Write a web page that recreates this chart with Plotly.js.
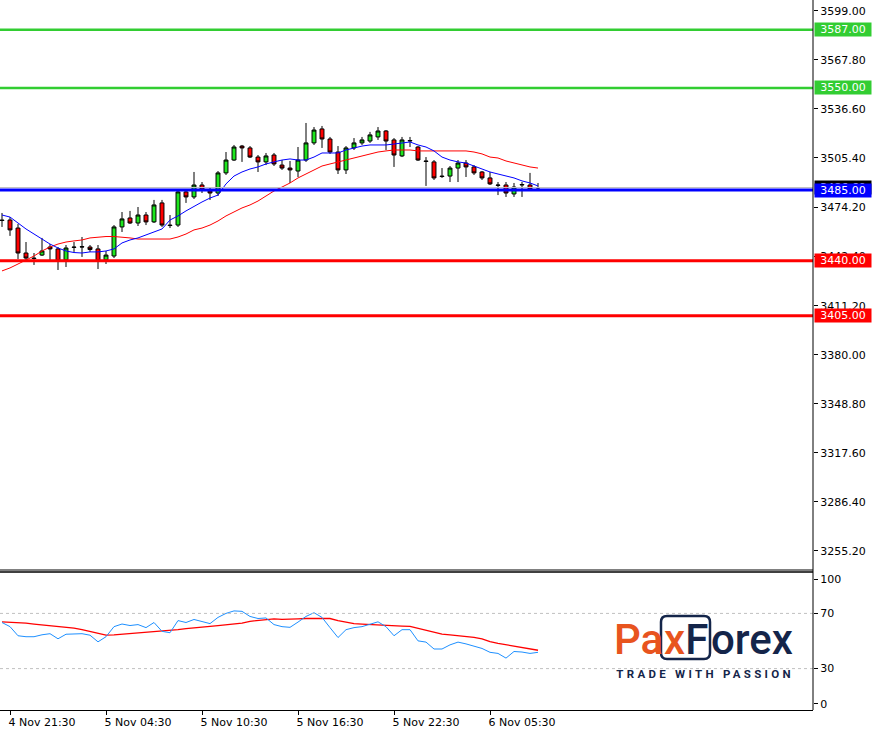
<!DOCTYPE html>
<html>
<head>
<meta charset="utf-8">
<script src="https://cdn.plot.ly/plotly-3.0.1.min.js"></script>
<style>
html,body{margin:0;padding:0;background:#fff;}
#chart{width:876px;height:730px;}
</style>
</head>
<body>
<div id="chart"></div>
<script>
// ---- data ----
const barIndex = Array.from({length: 68}, (_, i) => i);

const openPx = [3465.9,3465.9,3460.8,3444.9,3441.7,3443.6,3448.7,3447.5,3440.5,3448.7,
  3448.7,3448.7,3447.5,3440.5,3443.0,3461.5,3467.2,3464.0,3469.1,3464.7,
  3476.8,3462.7,3462.7,3483.8,3480.6,3488.2,3484.4,3483.1,3495.9,3504.1,
  3513.0,3511.8,3506.0,3502.9,3507.3,3500.9,3499.0,3497.1,3504.1,3515.0,
  3523.9,3517.5,3509.2,3497.8,3511.8,3515.0,3516.2,3518.8,3522.6,3516.9,
  3506.7,3516.2,3512.4,3503.5,3502.9,3493.9,3493.9,3499.0,3502.2,3499.7,
  3496.5,3492.7,3488.2,3488.2,3482.5,3488.2,3488.2,3486.3];

const highPx = [3470.4,3467.8,3463.4,3451.9,3444.9,3454.5,3450.6,3448.7,3450.0,3451.9,
  3455.1,3450.0,3450.0,3446.2,3462.7,3471.0,3471.7,3474.2,3471.0,3478.7,
  3478.7,3469.1,3485.0,3485.0,3496.5,3490.1,3486.3,3497.1,3509.2,3513.7,
  3513.7,3513.0,3507.3,3508.6,3508.6,3504.1,3503.5,3512.4,3527.7,3525.1,
  3525.8,3518.8,3513.0,3513.0,3518.1,3518.8,3522.0,3525.1,3523.2,3518.1,
  3518.8,3518.8,3513.0,3506.0,3504.1,3499.0,3500.3,3504.1,3504.1,3500.9,
  3497.1,3496.5,3490.1,3490.1,3489.5,3490.1,3495.9,3489.5];

const lowPx = [3461.5,3455.8,3441.1,3439.2,3437.3,3443.0,3439.2,3434.1,3436.0,3445.6,
  3442.4,3445.6,3434.7,3437.9,3441.7,3458.3,3463.4,3462.1,3462.7,3464.0,
  3461.5,3460.8,3461.5,3476.8,3479.3,3483.1,3478.7,3481.2,3494.6,3503.5,
  3502.9,3505.4,3496.5,3500.9,3500.3,3497.8,3489.5,3493.3,3502.9,3513.7,
  3511.8,3508.0,3495.2,3495.2,3510.5,3513.7,3515.0,3516.9,3510.5,3499.7,
  3506.0,3512.4,3503.5,3487.6,3491.4,3492.7,3490.1,3490.1,3493.3,3494.6,
  3491.4,3488.2,3481.8,3480.6,3480.6,3480.6,3485.0,3485.0];

const closePx = [3465.6,3459.6,3444.9,3441.7,3441.4,3446.2,3447.5,3439.8,3448.1,3448.5,
  3448.9,3447.1,3439.8,3443.6,3461.5,3466.6,3464.0,3469.1,3464.7,3475.5,
  3462.7,3462.4,3483.8,3480.6,3488.2,3485.0,3483.1,3495.9,3504.1,3512.4,
  3511.8,3506.0,3502.9,3506.7,3501.6,3499.0,3497.8,3504.1,3515.0,3523.2,
  3517.5,3509.2,3497.8,3511.8,3515.0,3516.9,3520.1,3522.6,3516.2,3507.3,
  3516.9,3516.5,3504.1,3503.2,3492.7,3493.6,3499.0,3502.2,3499.7,3495.9,
  3492.7,3488.9,3488.0,3483.1,3486.9,3488.5,3485.7,3486.6];

const maFast = [3469.1,3467.8,3464.0,3460.2,3457.0,3453.8,3450.6,3448.1,3446.2,3445.2,
  3444.9,3445.6,3445.6,3446.2,3447.5,3451.3,3453.2,3454.5,3456.4,3458.3,
  3460.2,3465.9,3468.5,3471.7,3474.8,3477.4,3479.9,3481.8,3488.9,3493.9,
  3496.5,3498.4,3499.7,3501.6,3502.9,3504.1,3504.8,3504.1,3504.1,3506.0,
  3508.6,3508.6,3508.6,3510.5,3511.8,3513.0,3513.7,3513.7,3513.7,3514.3,
  3515.0,3515.6,3513.7,3512.4,3509.9,3506.0,3504.1,3502.9,3502.2,3500.3,
  3498.4,3496.5,3495.2,3493.9,3492.7,3490.8,3489.5,3487.6];

const maSlow = [3433.5,3435.4,3437.9,3440.5,3443.0,3446.2,3448.7,3450.6,3451.9,3452.6,
  3453.2,3454.5,3455.1,3455.4,3455.4,3455.1,3454.5,3453.8,3453.8,3453.8,
  3453.8,3453.8,3455.1,3457.0,3459.6,3460.8,3462.7,3465.3,3468.5,3471.0,
  3473.6,3475.5,3478.0,3481.2,3484.4,3486.9,3489.5,3492.7,3495.2,3497.8,
  3500.3,3501.6,3502.9,3504.1,3505.4,3506.7,3508.0,3509.2,3509.9,3510.5,
  3510.5,3510.5,3509.9,3509.9,3509.9,3509.9,3509.9,3509.9,3509.9,3509.2,
  3508.0,3506.0,3505.4,3503.5,3502.2,3500.9,3499.7,3499.0];

const rsi = [63.4,60.4,53.8,53.1,53.1,54.5,55.3,51.6,54.9,55.3,
  55.3,54.2,49.4,53.1,60.4,62.3,61.2,61.9,59.7,63.4,
  57.0,56.0,64.8,63.4,65.6,64.1,62.6,67.1,70.0,71.8,
  71.5,67.8,66.3,66.7,61.9,60.4,59.9,63.7,67.8,70.5,
  67.1,59.7,52.5,58.2,59.7,60.4,61.9,63.9,60.4,53.8,
  58.2,58.2,50.1,49.2,44.2,44.2,47.2,49.2,47.9,46.4,
  44.6,41.8,41.0,37.6,42.4,42.0,41.0,41.8];

const rsiSignal = [63.9,63.7,63.6,63.0,62.3,61.7,61.2,60.4,60.0,59.3,
  58.2,57.0,55.3,54.2,54.5,54.9,55.3,55.8,56.4,56.8,
  57.1,57.5,58.2,59.0,59.7,60.1,60.6,61.2,61.9,62.4,
  63.0,64.3,64.8,65.6,66.0,65.6,65.6,66.1,66.3,66.3,
  66.3,66.3,64.8,63.7,62.6,62.3,61.9,61.9,61.5,61.2,
  60.8,60.6,59.3,57.8,56.4,55.0,54.5,54.0,53.6,52.7,
  51.6,49.6,48.3,47.2,46.2,45.2,44.2,43.3];

const timeTickIdx = [1, 13, 25, 37, 49, 61];
const timeTickLabels = ['4 Nov 21:30','5 Nov 04:30','5 Nov 10:30','5 Nov 16:30','5 Nov 22:30','6 Nov 05:30'];

const priceTickVals = [3599.0, 3567.8, 3536.6, 3505.4, 3474.2, 3443.0, 3411.2, 3380.0, 3348.8, 3317.6, 3286.4, 3255.2];
const priceTickText = ['3599.00','3567.80','3536.60','3505.40','3474.20','3442.40','3411.20','3380.00','3348.80','3317.60','3286.40','3255.20'];

const rsiTickVals = [94.5, 70, 30, 4.5];
const rsiTickText = ['100', '70', '30', '0'];

const levelValues = [3587, 3550, 3485, 3440, 3405];
const levelColors = ['#32CD32', '#32CD32', '#0000FF', '#FF0000', '#FF0000'];
const levelWidths = [2.5, 2.5, 3, 3, 3];

const rsiLevels = [70, 30];

// ---- layout helpers ----
const W = 876, H = 730;
const M = {l: 0, r: 63, t: 0, b: 20};
const PW = W - M.l - M.r, PH = H - M.t - M.b;
const px = x => (x - M.l) / PW;
const py = y => 1 - (y - M.t) / PH;
const FONT = 'DejaVu Sans, Tahoma, sans-serif';

const traces = [
  {
    type: 'candlestick', x: barIndex, open: openPx, high: highPx, low: lowPx, close: closePx,
    xaxis: 'x', yaxis: 'y',
    increasing: {line: {color: '#000000', width: 1}, fillcolor: '#1ee61e'},
    decreasing: {line: {color: '#000000', width: 1}, fillcolor: '#ff0000'},
    whiskerwidth: 0, hoverinfo: 'skip', showlegend: false
  },
  {type: 'scatter', mode: 'lines', x: barIndex, y: maSlow, line: {color: '#FF0000', width: 1}, xaxis: 'x', yaxis: 'y', hoverinfo: 'skip', showlegend: false},
  {type: 'scatter', mode: 'lines', x: barIndex, y: maFast, line: {color: '#0000FF', width: 1}, xaxis: 'x', yaxis: 'y', hoverinfo: 'skip', showlegend: false},
  {type: 'scatter', mode: 'lines', x: barIndex, y: rsiSignal, line: {color: '#FF0000', width: 1.3}, xaxis: 'x', yaxis: 'y2', hoverinfo: 'skip', showlegend: false},
  {type: 'scatter', mode: 'lines', x: barIndex, y: rsi, line: {color: '#1E90FF', width: 1}, xaxis: 'x', yaxis: 'y2', hoverinfo: 'skip', showlegend: false}
];

const mainBottom = 570, lowerTop = 572;

const shapes = [];
// bid line (last close)
shapes.push({type: 'line', xref: 'paper', yref: 'y', x0: 0, x1: 1, y0: closePx[closePx.length - 1], y1: closePx[closePx.length - 1], line: {color: '#C0C0C0', width: 1}});
levelValues.forEach((v, i) => {
  shapes.push({type: 'line', xref: 'paper', yref: 'y', x0: 0, x1: 1, y0: v, y1: v, line: {color: levelColors[i], width: levelWidths[i]}});
});
rsiLevels.forEach(v => {
  shapes.push({type: 'line', xref: 'paper', yref: 'y2', x0: 0, x1: 1, y0: v, y1: v, line: {color: '#C0C0C0', width: 1, dash: '3px,3px'}});
});
// panel borders
shapes.push({type: 'line', xref: 'paper', yref: 'paper', x0: 0, x1: 1, y0: py(mainBottom), y1: py(mainBottom), line: {color: '#000', width: 1}});
shapes.push({type: 'line', xref: 'paper', yref: 'paper', x0: 0, x1: 1, y0: py(lowerTop), y1: py(lowerTop), line: {color: '#000', width: 1.5}});
shapes.push({type: 'line', xref: 'paper', yref: 'paper', x0: 1, x1: 1, y0: 0, y1: 1, line: {color: '#000', width: 1}});

// logo box around "xF"
(function () {
  const x0 = px(661), x1 = px(710), yt = py(616), yb = py(659);
  const rx = 6 / PW, ry = 6 / PH;
  const path = `M ${x0 + rx},${yt} L ${x1 - rx},${yt} Q ${x1},${yt} ${x1},${yt - ry} L ${x1},${yb + ry} Q ${x1},${yb} ${x1 - rx},${yb} L ${x0 + rx},${yb} Q ${x0},${yb} ${x0},${yb + ry} L ${x0},${yt - ry} Q ${x0},${yt} ${x0 + rx},${yt} Z`;
  shapes.push({type: 'path', xref: 'paper', yref: 'paper', path: path, line: {color: '#14254A', width: 2.5}, fillcolor: 'rgba(0,0,0,0)'});
})();

const annotations = [];
// bid label (mostly hidden behind the blue label)
annotations.push({xref: 'paper', yref: 'y', x: 1, xshift: 1, xanchor: 'left', y: closePx[closePx.length - 1], yanchor: 'middle',
  text: closePx[closePx.length - 1].toFixed(2), showarrow: false, bgcolor: '#000000', font: {family: FONT, size: 11, color: '#fff'}, width: 56, height: 13, borderpad: 0});
levelValues.forEach((v, i) => {
  annotations.push({xref: 'paper', yref: 'y', x: 1, xshift: 1, xanchor: 'left', y: v, yanchor: 'middle',
    text: v.toFixed(2), showarrow: false, bgcolor: levelColors[i], font: {family: FONT, size: 11, color: '#ffffff'}, width: 56, height: 13, borderpad: 0});
});
// logo
const LOGO_FONT = 'Roboto, Lato, sans-serif';
annotations.push({xref: 'paper', yref: 'paper', x: px(612), xanchor: 'left', y: py(639), yanchor: 'middle', showarrow: false,
  text: 'Pa', font: {family: LOGO_FONT, size: 42, color: '#E8541E', weight: 500}});
annotations.push({xref: 'paper', yref: 'paper', x: px(685.5), xanchor: 'center', y: py(639), yanchor: 'middle', showarrow: false,
  text: '<span style="color:#E8541E">x</span><span style="color:#14254A">F</span>', font: {family: LOGO_FONT, size: 42, color: '#14254A', weight: 500}});
annotations.push({xref: 'paper', yref: 'paper', x: px(709), xanchor: 'left', y: py(639), yanchor: 'middle', showarrow: false,
  text: 'orex', font: {family: LOGO_FONT, size: 42, color: '#14254A', weight: 500}});
annotations.push({xref: 'paper', yref: 'paper', x: px(705), xanchor: 'center', y: py(674), yanchor: 'middle', showarrow: false,
  text: 'TRADE WITH PASSION', font: {family: LOGO_FONT, size: 11.5, color: '#14254A', weight: 700}});

const layout = {
  width: W, height: H,
  margin: M,
  paper_bgcolor: '#ffffff', plot_bgcolor: '#ffffff',
  showlegend: false,
  boxgap: 0.3,
  xaxis: {
    anchor: 'y2', domain: [0, 1], range: [-0.25, (PW - 2) / 8],
    tickmode: 'array', tickvals: timeTickIdx, ticktext: timeTickLabels,
    ticks: 'outside', ticklen: 4, tickcolor: '#000', tickwidth: 1,
    ticklabelshift: 32, ticklabelstandoff: -2,
    tickfont: {family: FONT, size: 11, color: '#000'},
    showgrid: false, zeroline: false, showline: true, linecolor: '#000', linewidth: 1,
    rangeslider: {visible: false}, fixedrange: true
  },
  yaxis: {
    domain: [py(mainBottom), 1], range: [3606.0 - 0.63673 * mainBottom, 3606.0],
    side: 'right', tickmode: 'array', tickvals: priceTickVals, ticktext: priceTickText,
    ticks: 'outside', ticklen: 4, tickcolor: '#000', tickwidth: 1,
    tickfont: {family: FONT, size: 11, color: '#000'},
    showgrid: false, zeroline: false, showline: false, fixedrange: true
  },
  yaxis2: {
    domain: [0, py(lowerTop)], range: [0, 100],
    side: 'right', tickmode: 'array', tickvals: rsiTickVals, ticktext: rsiTickText,
    ticks: 'outside', ticklen: 4, tickcolor: '#000', tickwidth: 1,
    tickfont: {family: FONT, size: 11, color: '#000'},
    showgrid: false, zeroline: false, showline: false, fixedrange: true
  },
  shapes: shapes,
  annotations: annotations
};

Plotly.newPlot('chart', traces, layout, {displayModeBar: false, staticPlot: true}).then(() => {
  document.querySelectorAll('#chart .annotation-text').forEach(t => {
    if (t.textContent === 'TRADE WITH PASSION') t.setAttribute('letter-spacing', '3.3px');
  });
});
</script>
</body>
</html>
